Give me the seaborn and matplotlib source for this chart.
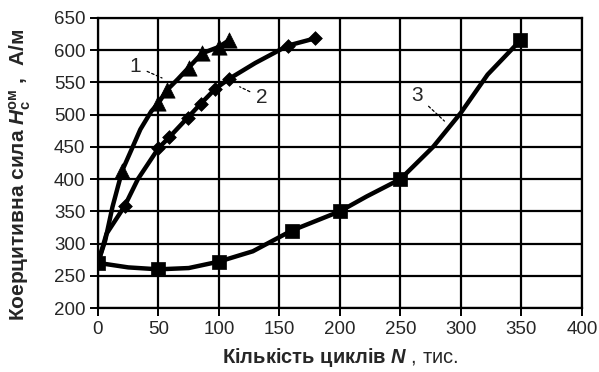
import matplotlib
matplotlib.use("Agg")
import matplotlib.pyplot as plt
import seaborn as sns
import pandas as pd

# Curve 1 (triangles)
N1 = [0, 6, 12, 20, 28, 35, 44, 50, 57, 66, 75, 86, 100, 108]
H1 = [270, 305, 357, 413, 447, 477, 505, 518, 538, 555, 573, 595, 605, 615]
M1 = [0, 0, 0, 1, 0, 0, 0, 1, 1, 0, 1, 1, 1, 1]
# Curve 2 (diamonds)
N2 = [0, 7, 22, 33, 50, 59, 74, 85, 97, 108, 130, 157, 179]
H2 = [270, 315, 358, 400, 448, 465, 495, 517, 540, 555, 580, 607, 618]
M2 = [0, 0, 1, 0, 1, 1, 1, 1, 1, 1, 0, 1, 1]
# Curve 3 (squares)
N3 = [0, 25, 50, 75, 100, 128, 160, 180, 200, 222, 250, 277, 300, 322, 349]
H3 = [270, 263, 260, 262, 272, 288, 320, 335, 350, 373, 400, 450, 503, 562, 615]
M3 = [1, 0, 1, 0, 1, 0, 1, 0, 1, 0, 1, 0, 0, 0, 1]

x_ticks = [0, 50, 100, 150, 200, 250, 300, 350, 400]
y_ticks = [200, 250, 300, 350, 400, 450, 500, 550, 600, 650]

sns.set_style("white")
plt.rcParams['font.family'] = ['Liberation Sans', 'DejaVu Sans']
plt.rcParams['mathtext.fontset'] = 'custom'
plt.rcParams['mathtext.rm'] = 'Liberation Sans'
plt.rcParams['mathtext.it'] = 'Liberation Sans:italic'
plt.rcParams['mathtext.bf'] = 'Liberation Sans:bold'
plt.rcParams['mathtext.bfit'] = 'Liberation Sans:italic:bold'

fig = plt.figure(figsize=(5.99, 3.72), dpi=100)
ax = fig.add_axes([0.1636, 0.172, 0.808, 0.78])

curves = [
    (N1, H1, M1, '^', 11),
    (N2, H2, M2, 'D', 7),
    (N3, H3, M3, 's', 10),
]
for N, H, M, mk, ms in curves:
    df = pd.DataFrame({'N': N, 'H': H, 'm': M})
    sns.lineplot(data=df, x='N', y='H', sort=False, color='black', lw=3.2,
                 estimator=None, ax=ax, zorder=3)
    dm = df[df['m'] == 1]
    sns.scatterplot(data=dm, x='N', y='H', marker=mk, s=ms ** 2, color='black',
                    edgecolor='black', linewidth=0.5, ax=ax, zorder=4)

ax.set_xlim(0, 400)
ax.set_ylim(200, 650)
ax.set_xticks(x_ticks)
ax.set_yticks(y_ticks)
for xv in x_ticks:
    ax.axvline(xv, color='black', lw=1.6, zorder=1)
for yv in y_ticks:
    ax.axhline(yv, color='black', lw=1.6, zorder=1)
for s in ax.spines.values():
    s.set_color('black')
    s.set_linewidth(1.6)
ax.tick_params(axis='both', direction='out', length=6, width=1.4, color='black',
               labelsize=13.5, pad=3, left=True, bottom=True)

ax.set_xlabel(r"$\mathbf{Кількість\ циклів}\ \mathbfit{N}$ , тис.", fontsize=14.5,
              labelpad=6)
ax.set_ylabel(r"Коерцитивна сила $\mathbfit{H}_{\mathbf{c}}^{\mathbf{ом}}$ ,  А/м",
              fontsize=15, fontweight='bold', labelpad=6)
ax.yaxis.set_label_coords(-0.135, 0.46)

ann = dict(arrowstyle='-', linestyle=(0, (2, 2)), lw=0.9, color='black')
ax.annotate('1', xy=(55, 555), xytext=(31, 575), fontsize=15, ha='center',
            va='center', arrowprops=ann)
ax.annotate('2', xy=(115, 545), xytext=(135, 527), fontsize=15, ha='center',
            va='center', arrowprops=ann)
ax.annotate('3', xy=(288, 487), xytext=(264, 529), fontsize=15, ha='center',
            va='center', arrowprops=ann)

fig.savefig('out.png', dpi=100)
